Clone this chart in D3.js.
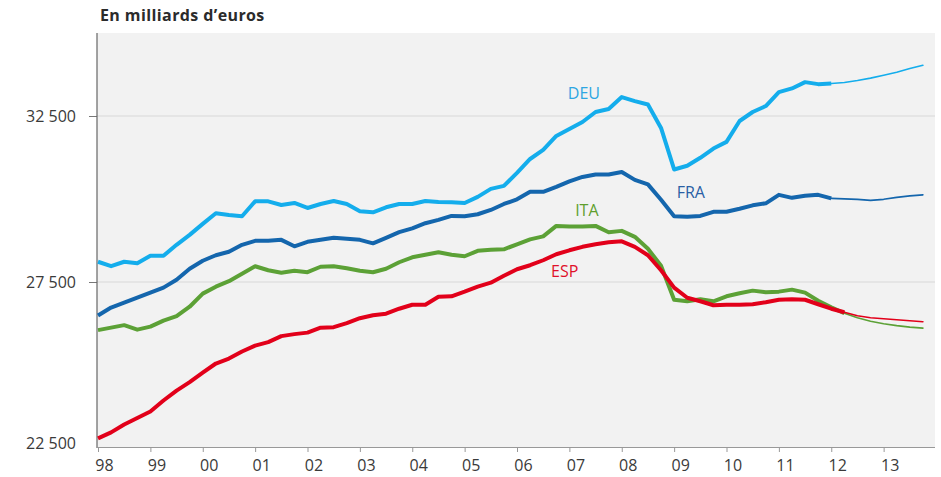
<!DOCTYPE html>
<html>
<head>
<meta charset="utf-8">
<script src="https://cdn.jsdelivr.net/npm/d3@7"></script>
<style>
  html, body { margin: 0; padding: 0; background: #ffffff; }
  svg { display: block; }
  text { font-family: "Open Sans", "Noto Sans", sans-serif; }
</style>
</head>
<body>
<svg id="chart" width="941" height="477"></svg>
<script>
// Quarterly series, starting 1998 Q1 (index 0), ending 2013 Q4 (index 63)
const startYear = 1998;
const deu = [28110,27975,28110,28065,28290,28290,28620,28920,29250,29570,29520,29480,29930,29930,29820,29880,
             29730,29850,29940,29850,29630,29600,29750,29850,29850,29940,29910,29900,29880,30065,30305,30395,
             30785,31205,31480,31900,32110,32320,32620,32710,33070,32950,32845,32140,30890,31000,31240,31520,
             31720,32350,32620,32800,33220,33330,33520,33460,33480,33510,33570,33640,33730,33820,33930,34030];
const fra = [26490,26730,26880,27030,27180,27330,27570,27900,28140,28305,28410,28620,28740,28740,28770,28575,
             28710,28770,28830,28800,28770,28665,28830,29000,29115,29270,29370,29490,29480,29540,29670,29850,
             29990,30215,30215,30365,30530,30665,30740,30740,30815,30575,30440,29975,29480,29465,29490,29615,
             29615,29705,29810,29870,30125,30035,30095,30125,30020,30005,29990,29960,29990,30050,30095,30125];
const ita = [26050,26125,26200,26065,26155,26335,26470,26755,27150,27360,27525,27750,27975,27855,27780,27840,
             27795,27960,27975,27915,27840,27795,27900,28095,28245,28320,28395,28320,28275,28440,28470,28485,
             28635,28785,28875,29190,29175,29175,29190,29000,29040,28860,28500,27990,26965,26920,26980,26920,
             27070,27160,27240,27190,27210,27270,27180,26935,26740,26560,26425,26320,26245,26185,26140,26110];
const esp = [22790,22970,23210,23405,23600,23930,24230,24485,24770,25045,25195,25405,25585,25690,25870,25930,
             25975,26125,26140,26260,26410,26500,26545,26695,26815,26815,27055,27070,27210,27360,27480,27690,
             27885,28005,28155,28335,28455,28560,28635,28695,28725,28560,28305,27855,27330,27025,26920,26800,
             26815,26815,26830,26890,26965,26980,26965,26830,26695,26590,26485,26425,26395,26365,26335,26305];
// index of last observed quarter (thin line = forecast afterwards)
const lastObserved = { DEU: 56, FRA: 56, ITA: 57, ESP: 57 };
const seriesNames = ["DEU", "FRA", "ITA", "ESP"];
const seriesValues = { DEU: deu, FRA: fra, ITA: ita, ESP: esp };
const yTicks = [22500, 27500, 32500];
const xTickYears = d3.range(1998, 2014);
const xTickLabels = ["98","99","00","01","02","03","04","05","06","07","08","09","10","11","12","13"];
const title = "En milliards d\u2019euros";

const colors = { DEU: "#14adec", FRA: "#1466ad", ITA: "#5ca136", ESP: "#e2001a" };
const labelColors = { DEU: "#2ea6e2", FRA: "#2a5fa5", ITA: "#5f9f2e", ESP: "#e0102a" };
// label anchor (year, value) = left edge / vertical centre
const labelPos = { DEU: [2006.97, 33130], FRA: [2009.05, 30155], ITA: [2007.11, 29613], ESP: [2006.65, 27780] };

const svg = d3.select("#chart");
const pLeft = 97, pRight = 935, pTop = 33, pBottom = 447;

const x = d3.scaleLinear().domain([1998, 2014]).range([98, 936]);
const y = d3.scaleLinear().domain([22500, 35000]).range([448, 33]);

// plot background
svg.append("rect").attr("x", pLeft).attr("y", pTop)
  .attr("width", pRight - pLeft).attr("height", pBottom - pTop)
  .attr("fill", "#f2f2f2");

// gridlines
svg.append("g").selectAll("line").data(yTicks.filter(d => d > 22500)).join("line")
  .attr("x1", pLeft).attr("x2", pRight)
  .attr("y1", d => y(d)).attr("y2", d => y(d))
  .attr("stroke", "#d8d8d8").attr("stroke-width", 1);

// Y axis
const fmt = d => d3.format(",")(d).replace(",", " ");
const yAxis = d3.axisLeft(y).tickValues(yTicks).tickSize(8).tickPadding(13).tickFormat(fmt);
const gy = svg.append("g").attr("transform", `translate(${pLeft},0)`).call(yAxis);
gy.select(".domain").remove();
gy.selectAll(".tick line").attr("stroke", "#777").filter(d => d === 22500).remove();
gy.selectAll(".tick text").attr("font-size", 16).attr("fill", "#3a3a3a");
gy.selectAll(".tick text").filter(d => d === 22500).attr("transform", "translate(0,-5)");
svg.append("line").attr("x1", pLeft).attr("x2", pLeft).attr("y1", pTop).attr("y2", pBottom + 1)
  .attr("stroke", "#666").attr("stroke-width", 1.2);

// X axis
const xAxis = d3.axisBottom(x).tickValues(xTickYears).tickSize(5).tickPadding(8)
  .tickFormat((d, i) => xTickLabels[i]);
const gx = svg.append("g").attr("transform", `translate(0,${pBottom})`).call(xAxis);
gx.select(".domain").attr("stroke", "#999").attr("d", `M${pLeft},0.5H${pRight}`);
gx.selectAll(".tick line").attr("stroke", "#999");
gx.selectAll(".tick text").attr("font-size", 16).attr("fill", "#3a3a3a").attr("dx", 6);

// lines
const line = d3.line().x(d => x(startYear + d.i / 4)).y(d => y(d.v));
seriesNames.forEach(name => {
  const pts = seriesValues[name].map((v, i) => ({ i, v }));
  const k = lastObserved[name];
  svg.append("path").datum(pts.slice(k))
    .attr("d", line).attr("fill", "none")
    .attr("stroke", colors[name]).attr("stroke-width", 1.6)
    .attr("stroke-linejoin", "round").attr("stroke-linecap", "round");
  svg.append("path").datum(pts.slice(0, k + 1))
    .attr("d", line).attr("fill", "none")
    .attr("stroke", colors[name]).attr("stroke-width", 4)
    .attr("stroke-linejoin", "round").attr("stroke-linecap", "butt");
});

// series labels
seriesNames.forEach(name => {
  svg.append("text").attr("x", x(labelPos[name][0])).attr("y", y(labelPos[name][1]))
    .attr("font-size", 16).attr("fill", labelColors[name])
    .attr("dominant-baseline", "middle")
    .text(name);
});

// title
svg.append("text").attr("x", 100).attr("y", 21)
  .attr("font-size", 16).attr("font-weight", "bold").attr("fill", "#2b2b2b")
  .attr("letter-spacing", 0.4)
  .text(title);
</script>
</body>
</html>
